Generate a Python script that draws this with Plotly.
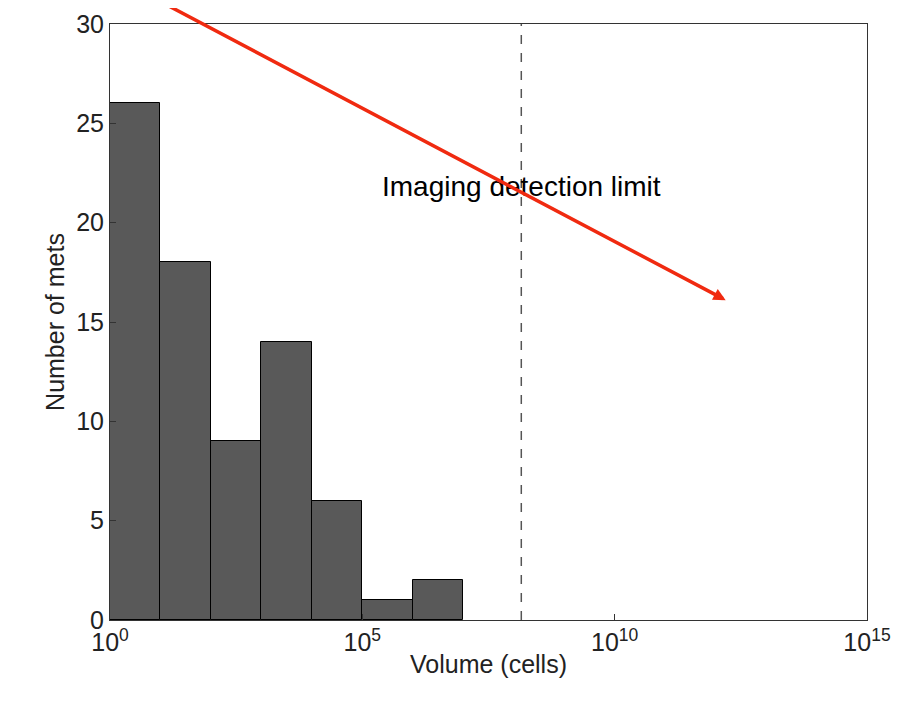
import plotly.graph_objects as go

# histogram bins in log10(volume), one decade each
bin_left = [0, 1, 2, 3, 4, 5, 6]
counts = [26, 18, 9, 14, 6, 1, 2]
tick_exp = [0, 5, 10, 15]
tick_text = ["10<sup>0</sup>", "10<sup>5</sup>", "10<sup>10</sup>", "10<sup>15</sup>"]
limit_exp = 8.15

fig = go.Figure(go.Bar(x=[b + 0.5 for b in bin_left], y=counts, width=1,
                       marker=dict(color="#595959", line=dict(color="black", width=1))))

fig.add_shape(type="line", x0=limit_exp, x1=limit_exp, y0=0, y1=30,
              line=dict(color="#555555", width=1.5, dash="dash"))
fig.add_annotation(x=limit_exp, y=21.8, text="Imaging detection limit", showarrow=False,
                   font=dict(size=28, color="black"))
fig.add_annotation(x=12.2, y=16.1, ax=0.5, ay=31.8, axref="x", ayref="y",
                   showarrow=True, arrowhead=2, arrowsize=0.7, arrowwidth=3.5,
                   arrowcolor="#f02a10", text="")

axis = dict(showline=True, mirror=True, linecolor="#333333", linewidth=1,
            ticks="inside", ticklen=6, tickcolor="#333333", showgrid=False,
            zeroline=False, automargin=False, tickfont=dict(size=25, color="#222222"))
fig.update_xaxes(range=[0, 15], tickvals=tick_exp, ticktext=tick_text,
                 title=dict(text="Volume (cells)", font=dict(size=25), standoff=0), **axis)
fig.update_yaxes(range=[0, 30], dtick=5,
                 title=dict(text="Number of mets", font=dict(size=25), standoff=4), **axis)
fig.update_layout(width=923, height=716, plot_bgcolor="white", paper_bgcolor="white",
                  font=dict(family="Liberation Sans", color="#222222"),
                  margin=dict(l=102, r=64, t=16, b=104), showlegend=False, bargap=0)
fig.write_html("out.html")
